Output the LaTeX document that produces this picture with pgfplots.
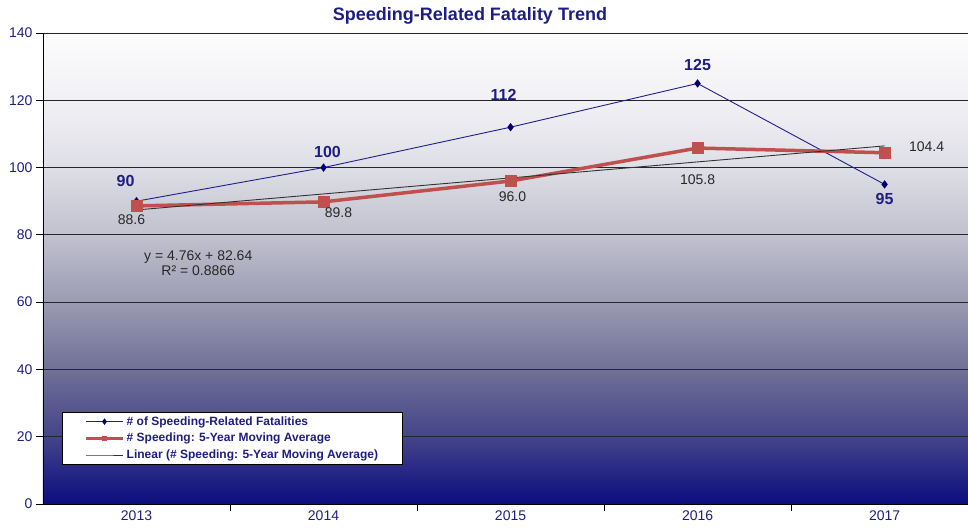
\documentclass[border=0pt]{standalone}
\usepackage{fontspec}
\setmainfont{Liberation Sans}
\usepackage{pgfplots}
\pgfplotsset{compat=1.18}
\usepackage{pgfplotstable}
\definecolor{navytxt}{RGB}{30,30,130}
\definecolor{bline}{RGB}{30,30,140}
\definecolor{bmark}{RGB}{0,0,110}
\definecolor{redl}{RGB}{192,80,77}
\definecolor{lbltxt}{RGB}{40,40,40}
\definecolor{g0}{RGB}{12,12,128}
\definecolor{g20}{RGB}{68,68,138}
\definecolor{g40}{RGB}{112,112,152}
\definecolor{g60}{RGB}{155,155,178}
\definecolor{g80}{RGB}{193,193,207}
\definecolor{g100}{RGB}{222,222,230}
\definecolor{g120}{RGB}{241,241,245}
\definecolor{g140}{RGB}{252,252,252}
\pgfdeclareverticalshading{bgshade}{100bp}{%
  color(0bp)=(g0); color(25bp)=(g0); color(32.14bp)=(g20); color(39.29bp)=(g40);
  color(46.43bp)=(g60); color(53.57bp)=(g80); color(60.71bp)=(g100);
  color(67.86bp)=(g120); color(75bp)=(g140); color(100bp)=(g140)}

\pgfplotstableread{
x y lbl dx dy
0 90 90 -11 20
1 100 100 4 16
2 112 112 -7 32
3 125 125 0 18
4 95 95 0 -15
}\fat
\pgfplotstableread{
x y lbl dx dy
0 88.6 88.6 -5 -14
1 89.8 89.8 15 -11
2 96.0 96.0 2 -16
3 105.8 105.8 0 -32
4 104.4 104.4 42 6
}\avg
\pgfplotstableread{
x y
0 87.40
4 106.44
}\trend

\begin{document}
\begin{tikzpicture}
\begin{axis}[
  scale only axis, width=925pt, height=471pt,
  xmin=-0.5, xmax=4.446, ymin=0, ymax=140,
  axis x line*=bottom, axis y line*=left,
  axis line style={black, line width=0.8pt},
  xtick={0.5,1.5,2.5,3.5}, xticklabels={},
  extra x ticks={0,1,2,3,4},
  extra x tick labels={2013,2014,2015,2016,2017},
  extra x tick style={major tick length=0pt, grid=none},
  ytick={0,20,...,140},
  tick align=outside, major tick length=7pt,
  tick style={black, line width=0.8pt},
  ymajorgrids, grid style={black!85, line width=0.8pt},
  ticklabel style={font=\fontsize{14}{14}\selectfont, text=navytxt},
  xticklabel style={yshift=-3pt},
  /pgf/number format/assume math mode=true,
  axis background/.style={shading=bgshade},
  legend style={at={(axis description cs:0.0205,0.083)}, anchor=south west,
    draw=black, line width=0.6pt, fill=white, font=\bfseries\fontsize{12}{12}\selectfont,
    text=navytxt, inner xsep=22pt, inner ysep=2.5pt, row sep=2.5pt,
    cells={anchor=west}},
  legend image code/.code={\draw[mark repeat=2,mark phase=2,#1] plot coordinates {(0cm,0cm) (0.65cm,0cm) (1.3cm,0cm)};},
  clip=false,
]
\addplot[bline, line width=0.9pt, mark=diamond*, mark size=3.5pt,
  mark options={fill=bmark, draw=bmark},
  legend image post style={mark size=2.5pt},
  nodes near coords, point meta=explicit symbolic,
  visualization depends on={\thisrow{dx} \as \dx},
  visualization depends on={\thisrow{dy} \as \dy},
  every node near coord/.append style={anchor=center, xshift=\dx pt, yshift=\dy pt,
    font=\bfseries\fontsize{16}{16}\selectfont, text=navytxt}]
  table[x=x, y=y, meta=lbl]{\fat};
\addlegendentry{\# of Speeding-Related Fatalities}
\addplot[redl, line width=3.5pt, mark=square*, mark size=5.5pt,
  mark options={fill=redl, draw=redl, line width=0.5pt},
  legend image post style={mark size=2pt},
  nodes near coords, point meta=explicit symbolic,
  visualization depends on={\thisrow{dx} \as \dx},
  visualization depends on={\thisrow{dy} \as \dy},
  every node near coord/.append style={anchor=center, xshift=\dx pt, yshift=\dy pt,
    font=\fontsize{14}{14}\selectfont, text=lbltxt}]
  table[x=x, y=y, meta=lbl]{\avg};
\addlegendentry{\# Speeding: 5-Year Moving Average}
\addplot[black!80, line width=0.9pt, mark=none] table[x=x, y=y]{\trend};
\addlegendentry{Linear (\# Speeding: 5-Year Moving Average)}
\node[align=center, font=\fontsize{14}{15}\selectfont, text=lbltxt] at (axis cs:0.33,71.6) {y = 4.76x + 82.64\\R² = 0.8866};
\end{axis}
\node[font=\bfseries\fontsize{18}{18}\selectfont, text=navytxt] at ([xshift=427pt,yshift=17pt]current axis.north west) {Speeding-Related Fatality Trend};
\path (current axis.south west) +(-43pt,-27pt) coordinate (bl);
\path (current axis.north east) +(0pt,33pt) coordinate (tr);
\pgfresetboundingbox
\path[use as bounding box] (bl) rectangle (tr);
\end{tikzpicture}
\end{document}
